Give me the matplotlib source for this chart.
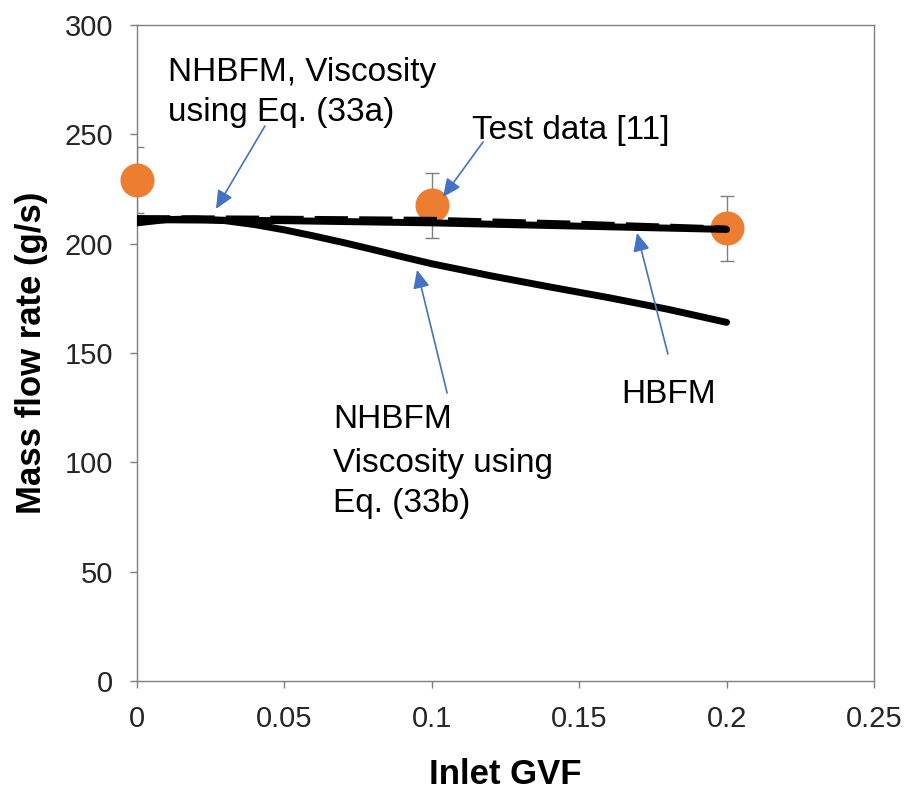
import matplotlib
matplotlib.use("Agg")
import matplotlib.pyplot as plt

plt.rcParams["font.family"] = ["Liberation Sans", "DejaVu Sans"]

# test data [11]
test_gvf = [0.0, 0.1, 0.2]
test_flow = [229, 217.5, 207]
test_err = [15, 15, 15]

# HBFM
hbfm_gvf = [0.0, 0.05, 0.1, 0.15, 0.2]
hbfm_flow = [211, 210.5, 209.5, 208, 206.5]

# NHBFM, viscosity from Eq. (33a)
nh33a_gvf = [0.0, 0.05, 0.1, 0.15, 0.2]
nh33a_flow = [211.8, 211.5, 211, 209.2, 207]

# NHBFM, viscosity from Eq. (33b)
nh33b_gvf = [0.0, 0.01, 0.02, 0.03, 0.04, 0.05, 0.06, 0.07, 0.08, 0.09,
             0.1, 0.12, 0.14, 0.16, 0.18, 0.2]
nh33b_flow = [209.5, 211, 211.3, 210.5, 208.7, 206.3, 203.5, 200.5, 197.3, 194,
              190.8, 185.3, 180.2, 175.3, 170, 164]

ORANGE = "#ED7D31"
BLUE = "#4472C4"
GREY = "#7F7F7F"

fig = plt.figure(figsize=(9.07, 7.89), dpi=100)
ax = fig.add_axes([0.151, 0.137, 0.8126, 0.8313])

ax.errorbar(test_gvf, test_flow, yerr=test_err, fmt="none", ecolor=GREY,
            elinewidth=1, capsize=5, capthick=1, zorder=2)
ax.plot(test_gvf, test_flow, "o", color=ORANGE, markersize=24.5,
        markeredgewidth=0, zorder=2.7, clip_on=False)

# model curves drawn over the test markers, as in the source figure
ax.plot(nh33b_gvf, nh33b_flow, color="black", linewidth=5, solid_capstyle="round",
        solid_joinstyle="round", zorder=3)
ax.plot(hbfm_gvf, hbfm_flow, color="black", linewidth=5, solid_capstyle="round", zorder=3)
ax.plot(nh33a_gvf, nh33a_flow, color="black", linewidth=4, linestyle=(0, (6, 2)), zorder=3)

arrow_kw = dict(arrowstyle="-|>,head_length=1.1,head_width=0.5", color=BLUE, lw=1.2,
                shrinkA=0, shrinkB=0)
ax.annotate("", xy=(0.0268, 215.9), xytext=(0.0434, 253.8), arrowprops=arrow_kw, zorder=5)
ax.annotate("", xy=(0.1038, 221.3), xytext=(0.1174, 246.5), arrowprops=arrow_kw, zorder=5)
ax.annotate("", xy=(0.0950, 188.0), xytext=(0.1052, 131.7), arrowprops=arrow_kw, zorder=5)
ax.annotate("", xy=(0.1696, 204.9), xytext=(0.1801, 149.5), arrowprops=arrow_kw, zorder=5)

txt = dict(fontsize=24, color="black", ha="left", va="baseline")
ax.text(0.0105, 274.6, "NHBFM, Viscosity", **txt)
ax.text(0.0105, 256.3, "using Eq. (33a)", **txt)
ax.text(0.1136, 248.0, "Test data [11]", **txt)
ax.text(0.0665, 115.6, "NHBFM", **txt)
ax.text(0.0665, 95.5, "Viscosity using", **txt)
ax.text(0.0665, 77.4, "Eq. (33b)", **txt)
ax.text(0.1644, 127.0, "HBFM", **txt)

ax.set_xlim(0, 0.25)
ax.set_ylim(0, 300)
ax.set_xticks([0, 0.05, 0.1, 0.15, 0.2, 0.25])
ax.set_xticklabels(["0", "0.05", "0.1", "0.15", "0.2", "0.25"])
ax.set_yticks(range(0, 301, 50))
ax.tick_params(direction="out", length=5, width=1, color=GREY, labelsize=21,
               labelcolor="#262626", pad=12)
for spine in ax.spines.values():
    spine.set_color(GREY)
    spine.set_linewidth(1)

ax.set_xlabel("Inlet GVF", fontsize=25, fontweight="bold", labelpad=18)
ax.set_ylabel("Mass flow rate (g/s)", fontsize=25, fontweight="bold", labelpad=12)

fig.savefig("out.png", dpi=100)
